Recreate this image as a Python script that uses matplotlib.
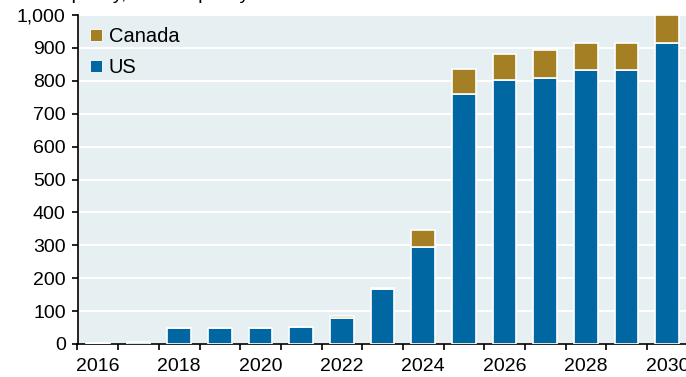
import matplotlib.pyplot as plt
import numpy as np
from matplotlib.lines import Line2D

plt.rcParams['font.family'] = ['Liberation Sans', 'DejaVu Sans']

# --------------------------------
# Data
# --------------------------------
years = list(range(2016, 2031))
us = [3, 7, 48, 50, 50, 52, 80, 167, 295, 760, 801, 810, 833, 833, 916]
canada = [0, 0, 0, 0, 0, 0, 4, 3, 50, 76, 80, 83, 81, 81, 84]
tick_years = [2016, 2018, 2020, 2022, 2024, 2026, 2028, 2030]

us_color = '#0067A3'
ca_color = '#A57F23'
bg_color = '#E6EFF2'

# --------------------------------
# Plot
# --------------------------------
fig = plt.figure(figsize=(6.86, 3.77), dpi=100)
ax = fig.add_axes([77.5 / 686, 1 - 344 / 377, (686 - 77.5) / 686, 329 / 377])
ax.set_facecolor(bg_color)

x = np.array(years)
ax.bar(x, us, width=0.58, color=us_color, edgecolor='white', linewidth=1.2, zorder=3)
ax.bar(x, canada, width=0.58, bottom=us, color=ca_color, edgecolor='white',
       linewidth=1.2, zorder=3)

ax.set_xlim(years[0] - 0.5, years[-1] + 0.46)
ax.set_ylim(0, 1000)
ax.set_yticks(range(0, 1001, 100))
ax.set_yticklabels([f"{v:,}" for v in range(0, 1001, 100)])
ax.yaxis.grid(True, color='white', linewidth=1.5, zorder=1)
ax.set_axisbelow(True)

# ticks between bars, labels under even years
ax.set_xticks(np.arange(years[0] - 0.5, years[-1] + 0.5, 1.0))
ax.set_xticklabels([])
ax.set_xticks(tick_years, minor=True)
ax.set_xticklabels([str(y) for y in tick_years], minor=True)
ax.tick_params(axis='x', which='major', length=4.5, width=1.2, direction='out')
ax.tick_params(axis='x', which='minor', length=0, pad=10, labelsize=14)
ax.tick_params(axis='y', length=4.5, width=1.2, direction='out', pad=4, labelsize=14)

for s in ['top', 'right']:
    ax.spines[s].set_visible(False)
ax.spines['left'].set_linewidth(1.2)
ax.spines['bottom'].set_linewidth(1.2)

handles = [
    Line2D([], [], marker='s', linestyle='', markersize=8, color=ca_color,
           markeredgecolor='white', markeredgewidth=0.6, label='Canada'),
    Line2D([], [], marker='s', linestyle='', markersize=8, color=us_color,
           markeredgecolor='white', markeredgewidth=0.6, label='US'),
]
ax.legend(handles=handles, loc='upper left', frameon=False, fontsize=14.5,
          handlelength=0.6, handletextpad=0.35, labelspacing=0.6,
          borderaxespad=0.2, bbox_to_anchor=(0.0, 1.0))

# title text cropped at the top of the image
fig.text(4 / 686, 1 + 1 / 377, 'Total capacity, LNG capacity', fontsize=14,
         ha='left', va='baseline')

fig.savefig('out.png', dpi=100)
